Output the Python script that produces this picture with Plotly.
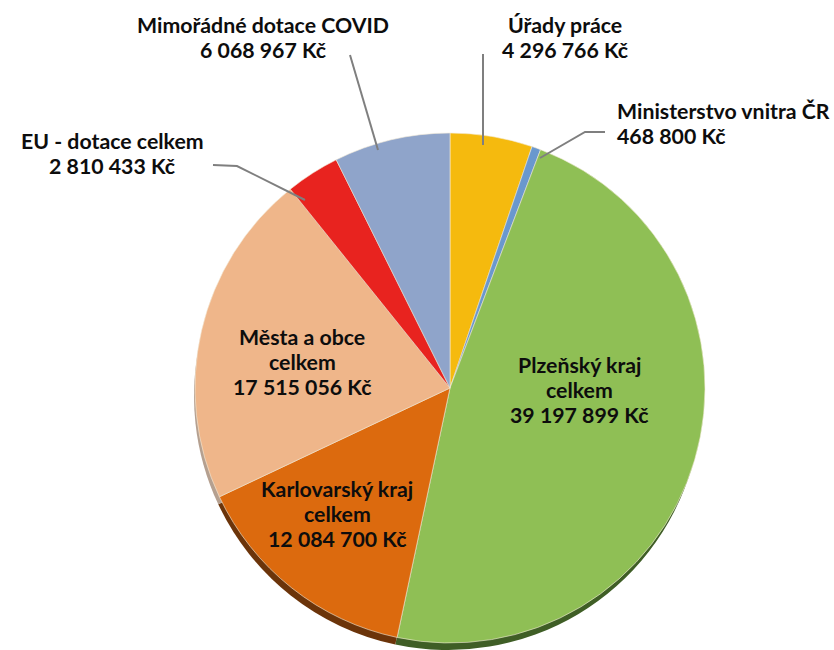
import plotly.graph_objects as go

W, H = 834, 650
categories = ["Úřady práce", "Ministerstvo vnitra ČR", "Plzeňský kraj celkem",
              "Karlovarský kraj celkem", "Města a obce celkem",
              "EU - dotace celkem", "Mimořádné dotace COVID"]
values = [4296766, 468800, 39197899, 12084700, 17515056, 2810433, 6068967]
colors = ["#F5BA0E", "#6A98CE", "#8FBF55", "#DC6A0E", "#EFB68A", "#E8231F", "#8FA4CA"]
shadow_colors = ["#8A6A08", "#3F5C7F", "#3F5E26", "#6B340A", "#B5A090", "#7A1210", "#55617A"]
label_lines = [
    ["Úřady práce", "4 296 766 Kč"],
    ["Ministerstvo vnitra ČR", "468 800 Kč"],
    ["Plzeňský kraj", "celkem", "39 197 899 Kč"],
    ["Karlovarský kraj", "celkem", "12 084 700 Kč"],
    ["Města a obce", "celkem", "17 515 056 Kč"],
    ["EU - dotace celkem", "2 810 433 Kč"],
    ["Mimořádné dotace COVID", "6 068 967 Kč"],
]
label_pos = [(565, 25, "center"), (615, 111, "left"), (579, 365, "center"),
             (337, 489, "center"), (302, 337, "center"), (112, 141, "center"),
             (263, 25, "center")]
LINE_STEP = 25
leaders = [
    [(483, 54), (483, 145)],
    [(605, 132), (585, 132), (540, 158)],
    [(213, 165), (237, 166), (305, 200)],
    [(350, 55), (378, 150)],
]

def px(x): return x / W
def py(y): return 1 - y / H

def domain(cx, cy, r):
    return dict(x=[max(0, px(cx - r)), min(1, px(cx + r))],
                y=[max(0, py(cy + r)), min(1, py(cy - r))])

common = dict(labels=categories, values=values, sort=False, direction="clockwise",
              rotation=0, textinfo="none", hoverinfo="label+value", showlegend=False)

fig = go.Figure()
fig.add_trace(go.Pie(domain=domain(448, 396, 254),
                     marker=dict(colors=shadow_colors, line=dict(width=0)), **common))
fig.add_trace(go.Pie(domain=domain(450, 388, 255),
                     marker=dict(colors=colors, line=dict(color="#F3EBD8", width=0.6)), **common))

annotations = []
for lines, (x, y, a) in zip(label_lines, label_pos):
    for i, t in enumerate(lines):
        annotations.append(dict(
            x=px(x), y=py(y + i * LINE_STEP), xref="paper", yref="paper", text=t,
            showarrow=False, xanchor=a, yanchor="middle", align=a,
            font=dict(family="Lato", size=21.3, color="#0D0D0D", weight="bold")))
shapes = []
for pts in leaders:
    path = "M " + " L ".join(f"{px(x):.5f} {py(y):.5f}" for x, y in pts)
    shapes.append(dict(type="path", path=path, xref="paper", yref="paper",
                       line=dict(color="#7F7F7F", width=2), layer="above"))

fig.update_layout(width=W, height=H, margin=dict(l=0, r=0, t=0, b=0),
                  paper_bgcolor="white", plot_bgcolor="white",
                  annotations=annotations, shapes=shapes)
fig.write_html("out.html", config=dict(displayModeBar=False),
               post_script="document.body.style.margin='0';")
